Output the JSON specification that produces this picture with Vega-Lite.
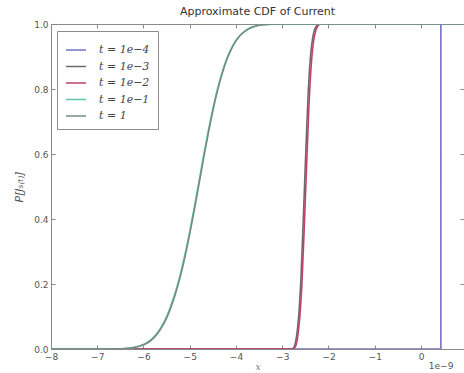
{
  "$schema": "https://vega.github.io/schema/vega-lite/v6.json",
  "width": 413,
  "height": 325,
  "autosize": "none",
  "padding": {"left": 51, "top": 24, "right": 0, "bottom": 24},
  "background": "white",
  "config": {
    "view": {"stroke": "#8a8a8a", "strokeWidth": 1},
    "font": "DejaVu Sans",
    "title": {"fontSize": 11, "fontWeight": "normal", "color": "#333333", "offset": 3, "font": "DejaVu Sans"},
    "axis": {"labelFont": "DejaVu Sans", "labelFontSize": 9, "labelColor": "#555555", "domainColor": "#8a8a8a", "tickColor": "#8a8a8a", "tickSize": -4, "grid": false, "labelFlush": false, "labelOverlap": false}
  },
  "title": "Approximate CDF of Current",
  "datasets": {
    "curves": [
      {"t": "t = 1e−4", "x": -8, "p": 0},
      {"t": "t = 1e−4", "x": 0.43, "p": 0},
      {"t": "t = 1e−4", "x": 0.4301, "p": 1},
      {"t": "t = 1e−4", "x": 0.93, "p": 1},

      {"t": "t = 1e−3", "x": -8, "p": 0},
      {"t": "t = 1e−3", "x": -2.795, "p": 0},
      {"t": "t = 1e−3", "x": -2.745, "p": 0.006},
      {"t": "t = 1e−3", "x": -2.695, "p": 0.035},
      {"t": "t = 1e−3", "x": -2.645, "p": 0.1},
      {"t": "t = 1e−3", "x": -2.595, "p": 0.22},
      {"t": "t = 1e−3", "x": -2.545, "p": 0.4},
      {"t": "t = 1e−3", "x": -2.495, "p": 0.59},
      {"t": "t = 1e−3", "x": -2.445, "p": 0.77},
      {"t": "t = 1e−3", "x": -2.395, "p": 0.89},
      {"t": "t = 1e−3", "x": -2.345, "p": 0.955},
      {"t": "t = 1e−3", "x": -2.295, "p": 0.985},
      {"t": "t = 1e−3", "x": -2.245, "p": 0.996},
      {"t": "t = 1e−3", "x": -2.185, "p": 1},
      {"t": "t = 1e−3", "x": 0.93, "p": 1},

      {"t": "t = 1e−2", "x": -8, "p": 0},
      {"t": "t = 1e−2", "x": -2.775, "p": 0},
      {"t": "t = 1e−2", "x": -2.725, "p": 0.005},
      {"t": "t = 1e−2", "x": -2.675, "p": 0.03},
      {"t": "t = 1e−2", "x": -2.625, "p": 0.09},
      {"t": "t = 1e−2", "x": -2.575, "p": 0.2},
      {"t": "t = 1e−2", "x": -2.525, "p": 0.37},
      {"t": "t = 1e−2", "x": -2.475, "p": 0.56},
      {"t": "t = 1e−2", "x": -2.425, "p": 0.74},
      {"t": "t = 1e−2", "x": -2.375, "p": 0.87},
      {"t": "t = 1e−2", "x": -2.325, "p": 0.945},
      {"t": "t = 1e−2", "x": -2.275, "p": 0.98},
      {"t": "t = 1e−2", "x": -2.225, "p": 0.995},
      {"t": "t = 1e−2", "x": -2.165, "p": 1},
      {"t": "t = 1e−2", "x": 0.93, "p": 1},

      {"t": "t = 1e−1", "x": -8, "p": 0},
      {"t": "t = 1e−1", "x": -7, "p": 0},
      {"t": "t = 1e−1", "x": -6.6, "p": 0.0004},
      {"t": "t = 1e−1", "x": -6.4, "p": 0.0015},
      {"t": "t = 1e−1", "x": -6.2, "p": 0.005},
      {"t": "t = 1e−1", "x": -6.0, "p": 0.014},
      {"t": "t = 1e−1", "x": -5.9, "p": 0.022},
      {"t": "t = 1e−1", "x": -5.8, "p": 0.034},
      {"t": "t = 1e−1", "x": -5.7, "p": 0.05},
      {"t": "t = 1e−1", "x": -5.6, "p": 0.072},
      {"t": "t = 1e−1", "x": -5.5, "p": 0.1},
      {"t": "t = 1e−1", "x": -5.4, "p": 0.137},
      {"t": "t = 1e−1", "x": -5.3, "p": 0.18},
      {"t": "t = 1e−1", "x": -5.2, "p": 0.232},
      {"t": "t = 1e−1", "x": -5.1, "p": 0.293},
      {"t": "t = 1e−1", "x": -5.0, "p": 0.362},
      {"t": "t = 1e−1", "x": -4.9, "p": 0.437},
      {"t": "t = 1e−1", "x": -4.8, "p": 0.516},
      {"t": "t = 1e−1", "x": -4.7, "p": 0.595},
      {"t": "t = 1e−1", "x": -4.6, "p": 0.67},
      {"t": "t = 1e−1", "x": -4.5, "p": 0.739},
      {"t": "t = 1e−1", "x": -4.4, "p": 0.8},
      {"t": "t = 1e−1", "x": -4.3, "p": 0.851},
      {"t": "t = 1e−1", "x": -4.2, "p": 0.893},
      {"t": "t = 1e−1", "x": -4.1, "p": 0.925},
      {"t": "t = 1e−1", "x": -4.0, "p": 0.95},
      {"t": "t = 1e−1", "x": -3.9, "p": 0.967},
      {"t": "t = 1e−1", "x": -3.8, "p": 0.979},
      {"t": "t = 1e−1", "x": -3.7, "p": 0.988},
      {"t": "t = 1e−1", "x": -3.6, "p": 0.993},
      {"t": "t = 1e−1", "x": -3.5, "p": 0.996},
      {"t": "t = 1e−1", "x": -3.4, "p": 0.998},
      {"t": "t = 1e−1", "x": -3.2, "p": 0.9995},
      {"t": "t = 1e−1", "x": -3.0, "p": 1},
      {"t": "t = 1e−1", "x": 0.93, "p": 1},

      {"t": "t = 1", "x": -8, "p": 0},
      {"t": "t = 1", "x": -7, "p": 0},
      {"t": "t = 1", "x": -6.6, "p": 0.0003},
      {"t": "t = 1", "x": -6.4, "p": 0.0012},
      {"t": "t = 1", "x": -6.2, "p": 0.0045},
      {"t": "t = 1", "x": -6.0, "p": 0.013},
      {"t": "t = 1", "x": -5.9, "p": 0.02},
      {"t": "t = 1", "x": -5.8, "p": 0.031},
      {"t": "t = 1", "x": -5.7, "p": 0.047},
      {"t": "t = 1", "x": -5.6, "p": 0.068},
      {"t": "t = 1", "x": -5.5, "p": 0.095},
      {"t": "t = 1", "x": -5.4, "p": 0.131},
      {"t": "t = 1", "x": -5.3, "p": 0.174},
      {"t": "t = 1", "x": -5.2, "p": 0.225},
      {"t": "t = 1", "x": -5.1, "p": 0.285},
      {"t": "t = 1", "x": -5.0, "p": 0.354},
      {"t": "t = 1", "x": -4.9, "p": 0.428},
      {"t": "t = 1", "x": -4.8, "p": 0.507},
      {"t": "t = 1", "x": -4.7, "p": 0.587},
      {"t": "t = 1", "x": -4.6, "p": 0.663},
      {"t": "t = 1", "x": -4.5, "p": 0.733},
      {"t": "t = 1", "x": -4.4, "p": 0.795},
      {"t": "t = 1", "x": -4.3, "p": 0.847},
      {"t": "t = 1", "x": -4.2, "p": 0.89},
      {"t": "t = 1", "x": -4.1, "p": 0.923},
      {"t": "t = 1", "x": -4.0, "p": 0.948},
      {"t": "t = 1", "x": -3.9, "p": 0.966},
      {"t": "t = 1", "x": -3.8, "p": 0.978},
      {"t": "t = 1", "x": -3.7, "p": 0.987},
      {"t": "t = 1", "x": -3.6, "p": 0.992},
      {"t": "t = 1", "x": -3.5, "p": 0.996},
      {"t": "t = 1", "x": -3.4, "p": 0.998},
      {"t": "t = 1", "x": -3.2, "p": 0.9995},
      {"t": "t = 1", "x": -3.0, "p": 1},
      {"t": "t = 1", "x": 0.93, "p": 1}
    ],
    "note": [{"label": "1e−9"}]
  },
  "layer": [
    {
      "data": {"name": "curves"},
      "mark": {"type": "line", "strokeWidth": 1.6, "clip": true, "interpolate": "monotone"},
      "encoding": {
        "x": {"field": "x", "type": "quantitative", "scale": {"domain": [-8, 0.93], "nice": false, "zero": false},
              "axis": {"orient": "bottom", "values": [-8, -7, -6, -5, -4, -3, -2, -1, 0], "format": "d", "labelPadding": 7, "title": "x", "titleFont": "DejaVu Serif", "titleFontStyle": "italic", "titleFontWeight": "normal", "titleFontSize": 9, "titleColor": "#777777", "titlePadding": 1}},
        "y": {"field": "p", "type": "quantitative", "scale": {"domain": [0, 1], "nice": false},
              "axis": {"orient": "left", "values": [0, 0.2, 0.4, 0.6, 0.8, 1.0], "format": ".1f", "labelPadding": 7, "title": "P[Jₛ₍ₜ₎]", "titleFont": "DejaVu Sans", "titleFontStyle": "italic", "titleFontWeight": "normal", "titleFontSize": 11, "titleColor": "#555555", "titlePadding": 9}},
        "color": {"field": "t", "type": "nominal",
                  "sort": ["t = 1e−4", "t = 1e−3", "t = 1e−2", "t = 1e−1", "t = 1"],
                  "scale": {"domain": ["t = 1e−4", "t = 1e−3", "t = 1e−2", "t = 1e−1", "t = 1"],
                            "range": ["#7272c4", "#6a6a72", "#c2406c", "#5ec8aa", "#768c82"]},
                  "legend": {"orient": "none", "legendX": 6, "legendY": 7, "title": null,
                             "symbolType": "stroke", "symbolSize": 400, "symbolStrokeWidth": 1.5,
                             "labelFont": "DejaVu Serif", "labelFontStyle": "italic", "labelFontSize": 11, "labelColor": "#444444",
                             "labelOffset": 12, "rowPadding": 0.5, "padding": 8,
                             "strokeColor": "#8a8a8a", "fillColor": "white", "labelLimit": 200}}
      }
    },
    {
      "data": {"name": "note"},
      "mark": {"type": "text", "align": "left", "baseline": "top", "font": "DejaVu Sans", "fontSize": 9, "color": "#555555", "dy": 13, "dx": 0},
      "encoding": {
        "x": {"datum": 0.17, "type": "quantitative", "axis": {"orient": "top", "labels": false, "title": null, "domain": false, "values": [-8, -7, -6, -5, -4, -3, -2, -1, 0]}},
        "y": {"datum": 0, "type": "quantitative", "axis": {"orient": "right", "labels": false, "title": null, "domain": false, "values": [0, 0.2, 0.4, 0.6, 0.8, 1.0]}},
        "text": {"field": "label"}
      }
    }
  ],
  "resolve": {"axis": {"x": "independent", "y": "independent"}}
}
